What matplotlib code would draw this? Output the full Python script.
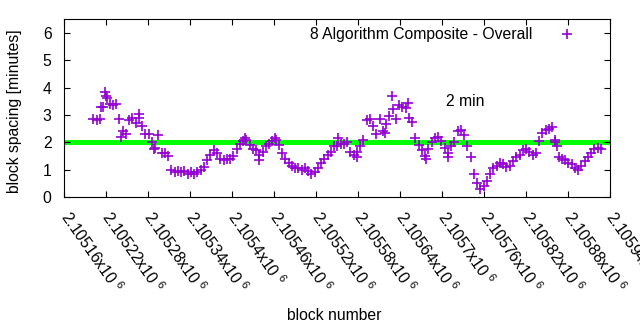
import numpy as np
import matplotlib
matplotlib.use("Agg")
import matplotlib.pyplot as plt
from matplotlib.transforms import ScaledTranslation

plt.rcParams['font.family'] = ['Liberation Sans', 'DejaVu Sans']
plt.rcParams['mathtext.fontset'] = 'custom'
plt.rcParams['mathtext.rm'] = 'Liberation Sans'

# block spacing in minutes, roughly every 4.65 blocks
spacing = [
    2.85, 2.8, 2.85, 3.3, 3.7, 3.4, 3.35, 3.4, 2.85, 2.4,
    2.3, 2.8, 2.9, 2.7, 2.9, 2.6, 2.3, 2.3, 2.0, 1.8,
    2.25, 1.6, 1.6, 1.5, 1.0, 0.9, 0.95, 0.9, 0.95, 0.85,
    0.9, 0.85, 0.9, 1.0, 1.1, 1.35, 1.55, 1.7, 1.6, 1.4,
    1.35, 1.4, 1.4, 1.5, 1.75, 1.95, 2.05, 2.1, 1.9, 1.75,
    1.7, 1.55, 1.65, 1.85, 1.95, 2.05, 2.1, 1.9, 1.6, 1.4,
    1.25, 1.15, 1.05, 1.05, 1.0, 1.05, 0.95, 0.85, 0.9, 1.05,
    1.25, 1.4, 1.55, 1.65, 1.85, 1.85, 1.95, 1.95, 2.0, 1.65,
    1.55, 1.65, 1.85, 2.1, 2.8, 2.85, 2.6, 2.3, 2.85, 2.4,
    2.65, 2.95, 3.2, 2.85, 3.35, 3.3, 3.25, 2.9, 2.75, 2.15,
    1.9, 1.7, 1.5, 1.75, 2.0, 2.15, 2.2, 2.05, 1.8, 1.6,
    1.85, 2.0, 2.4, 2.45, 2.25, 1.85, 1.45, 0.85, 0.5, 0.3,
    0.4, 0.6, 0.85, 1.05, 1.15, 1.25, 1.2, 1.1, 1.15, 1.3,
    1.45, 1.55, 1.7, 1.75, 1.65, 1.55, 1.6, 2.05, 2.35, 2.45,
    2.5, 2.55, 2.0, 1.45, 1.4, 1.35, 1.25, 1.2, 1.05, 1.0,
    1.15, 1.3, 1.45, 1.6, 1.75, 1.8, 1.75,
]
blocks = np.linspace(2105202, 2105927, len(spacing))

# scattered points that stand apart from the main band
extra_blocks = [2105219, 2105222, 2105213, 2105267, 2105242, 2105289, 2105438,
                2105418, 2105462, 2105551, 2105579, 2105628, 2105619, 2105651,
                2105677, 2105708, 2105862, 2105864]
extra_spacing = [3.85, 3.6, 3.3, 3.05, 2.2, 1.75, 1.35,
                 2.15, 2.15, 2.15, 1.45, 3.7, 2.35, 3.45,
                 1.4, 1.45, 2.1, 1.85]

xticks = np.arange(2105160, 2105941, 60)
target = 2.0
fs = 11.3

fig = plt.figure(figsize=(6.4, 3.3), dpi=100)
ax = fig.add_axes([0.1, 0.403, 0.853, 0.539])

ax.plot(np.concatenate([blocks, extra_blocks]), spacing + extra_spacing,
        linestyle='none', marker='+', markersize=6.5, mew=1.2,
        color='#9400D3', label='8 Algorithm Composite - Overall')
ax.axhline(target, xmin=0.004, xmax=0.995, color='#00FF00', lw=3.6, zorder=1)
ax.text(2105706, 3.5, '2 min', ha='left', va='center', fontsize=fs)

ax.set_xlim(2105160, 2105940)
ax.set_ylim(0, 6.5)
ax.set_yticks(range(0, 7))
ax.set_xticks(xticks)
ax.set_xticklabels(['%gx10 $^{6}$' % (t / 1e6) for t in xticks],
                   rotation=-55, ha='left', va='top', rotation_mode='anchor')
ax.tick_params(direction='in', length=4, width=0.8, top=True, right=True,
               labelsize=fs)
ax.tick_params(axis='x', pad=8)
ax.tick_params(axis='y', pad=9)
for s in ax.spines.values():
    s.set_linewidth(0.8)

# gnuplot starts the rotated labels right at the tick
shift = ScaledTranslation(8 / 100, 0, fig.dpi_scale_trans)
for lab in ax.get_xticklabels():
    lab.set_transform(lab.get_transform() + shift)

fig.text(15 / 640, 1 - 111 / 330, 'block spacing [minutes]', rotation=90,
         ha='center', va='center', fontsize=fs)
fig.text(334 / 640, 1 - 316 / 330, 'block number', ha='center', va='center',
         fontsize=fs)

ax.legend(loc='upper right', bbox_to_anchor=((583 - 64) / 546, 0.955),
          markerfirst=False, frameon=False, borderaxespad=0, borderpad=0,
          handletextpad=1.25, handlelength=2, fontsize=fs)

fig.savefig('out.png', dpi=100)
